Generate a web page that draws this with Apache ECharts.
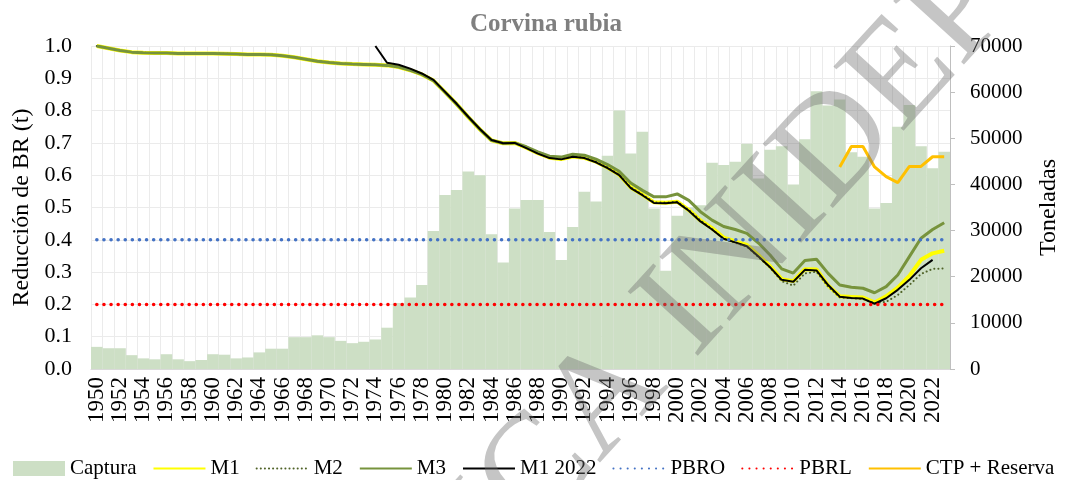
<!DOCTYPE html>
<html>
<head>
<meta charset="utf-8">
<script src="https://cdn.jsdelivr.net/npm/echarts@6/dist/echarts.min.js"></script>
<style>
  html, body { margin: 0; padding: 0; background: #fff; }
  #chart { width: 1069px; height: 480px; }
</style>
</head>
<body>
<div id="chart"></div>
<script>
// años
var years = [
  '1950','1951','1952','1953','1954','1955','1956','1957','1958','1959',
  '1960','1961','1962','1963','1964','1965','1966','1967','1968','1969',
  '1970','1971','1972','1973','1974','1975','1976','1977','1978','1979',
  '1980','1981','1982','1983','1984','1985','1986','1987','1988','1989',
  '1990','1991','1992','1993','1994','1995','1996','1997','1998','1999',
  '2000','2001','2002','2003','2004','2005','2006','2007','2008','2009',
  '2010','2011','2012','2013','2014','2015','2016','2017','2018','2019',
  '2020','2021','2022','2023'
];

// captura (toneladas)
var captura = [
  4800, 4500, 4500, 3000, 2300, 2100, 3200, 2100, 1700, 1950,
  3200, 3100, 2300, 2500, 3600, 4400, 4400, 6900, 6900, 7300,
  6900, 6100, 5600, 5900, 6400, 8950, 14300, 15500, 18200, 29900,
  37700, 38800, 42800, 42000, 29200, 23100, 34800, 36600, 36600, 29700,
  23600, 30800, 38400, 36300, 46200, 56000, 46700, 51400, 34800, 21300,
  33200, 35000, 35500, 44700, 44200, 44900, 48800, 41300, 47500, 48300,
  40000, 49800, 60200, 57100, 58400, 47000, 46000, 34800, 36000, 52500,
  57200, 48300, 43500, 47100
];

// reduccion de BR
var m1 = [
  1.000, 0.993, 0.986, 0.981, 0.979, 0.978, 0.978, 0.977, 0.977, 0.977,
  0.977, 0.976, 0.975, 0.974, 0.974, 0.973, 0.970, 0.965, 0.959, 0.953,
  0.949, 0.946, 0.944, 0.943, 0.942, 0.940, 0.935, 0.925, 0.912, 0.893,
  0.857, 0.820, 0.780, 0.742, 0.708, 0.699, 0.700, 0.685, 0.668, 0.654,
  0.650, 0.658, 0.654, 0.642, 0.624, 0.602, 0.562, 0.540, 0.516, 0.515,
  0.518, 0.492, 0.460, 0.436, 0.407, 0.395, 0.384, 0.352, 0.318, 0.278,
  0.272, 0.309, 0.308, 0.259, 0.225, 0.223, 0.221, 0.206, 0.225, 0.252,
  0.288, 0.338, 0.358, 0.366
];
var m2 = [
  1.000, 0.993, 0.986, 0.981, 0.979, 0.978, 0.978, 0.977, 0.977, 0.977,
  0.977, 0.976, 0.975, 0.974, 0.974, 0.973, 0.970, 0.965, 0.959, 0.953,
  0.949, 0.946, 0.944, 0.943, 0.942, 0.940, 0.935, 0.925, 0.912, 0.893,
  0.857, 0.820, 0.780, 0.742, 0.708, 0.699, 0.700, 0.685, 0.668, 0.654,
  0.650, 0.658, 0.654, 0.642, 0.624, 0.602, 0.562, 0.540, 0.516, 0.515,
  0.518, 0.492, 0.460, 0.433, 0.403, 0.391, 0.379, 0.346, 0.314, 0.272,
  0.258, 0.296, 0.301, 0.255, 0.222, 0.219, 0.217, 0.204, 0.208, 0.229,
  0.260, 0.294, 0.310, 0.311
];
var m3 = [
  1.000, 0.993, 0.986, 0.981, 0.979, 0.978, 0.978, 0.977, 0.977, 0.977,
  0.977, 0.976, 0.975, 0.974, 0.974, 0.973, 0.970, 0.965, 0.959, 0.953,
  0.949, 0.946, 0.944, 0.943, 0.942, 0.940, 0.935, 0.925, 0.912, 0.893,
  0.857, 0.820, 0.780, 0.742, 0.708, 0.699, 0.700, 0.688, 0.672, 0.659,
  0.656, 0.665, 0.662, 0.650, 0.633, 0.612, 0.576, 0.553, 0.533, 0.533,
  0.542, 0.522, 0.487, 0.461, 0.441, 0.432, 0.420, 0.390, 0.353, 0.310,
  0.297, 0.336, 0.340, 0.296, 0.260, 0.253, 0.250, 0.236, 0.255, 0.291,
  0.348, 0.405, 0.432, 0.453
];
var m1_2022 = [
  null, null, null, null, null, null, null, null, null, null,
  null, null, null, null, null, null, null, null, null, null,
  null, null, null, null, 1.000, 0.948, 0.942, 0.930, 0.915, 0.895,
  0.858, 0.821, 0.781, 0.743, 0.709, 0.699, 0.700, 0.684, 0.667, 0.653,
  0.649, 0.657, 0.653, 0.640, 0.622, 0.600, 0.560, 0.538, 0.514, 0.513,
  0.516, 0.490, 0.457, 0.432, 0.403, 0.392, 0.380, 0.348, 0.315, 0.276,
  0.270, 0.307, 0.305, 0.260, 0.224, 0.220, 0.218, 0.202, 0.219, 0.245,
  0.276, 0.312, 0.338, null
];
// CTP + Reserva (toneladas)
var ctp = [
  null, null, null, null, null, null, null, null, null, null,
  null, null, null, null, null, null, null, null, null, null,
  null, null, null, null, null, null, null, null, null, null,
  null, null, null, null, null, null, null, null, null, null,
  null, null, null, null, null, null, null, null, null, null,
  null, null, null, null, null, null, null, null, null, null,
  null, null, null, null, 43800, 48200, 48200, 43800, 41700, 40400,
  43900, 43900, 46000, 46000
];
// puntos biologicos de referencia
var pbro = 0.4;
var pbrl = 0.2;

var fuente = 'Liberation Serif';
var myChart = echarts.init(document.getElementById('chart'));

function punteada(nombre, valor, color) {
  return {
    name: nombre,
    type: 'line',
    data: years.map(function () { return valor; }),
    symbol: 'none',
    silent: true,
    lineStyle: { color: color, width: 3.5, type: [0.1, 7], cap: 'round' },
    itemStyle: { color: color }
  };
}

var option = {
  animation: false,
  backgroundColor: '#fff',
  title: {
    text: 'Corvina rubia',
    left: 541,
    top: 7,
    textAlign: 'center',
    textStyle: { color: '#7f7f7f', fontSize: 25, fontWeight: 'bold', fontFamily: fuente }
  },
  legend: {
    left: 8,
    top: 453,
    itemWidth: 52,
    itemHeight: 15,
    itemGap: 16,
    itemStyle: { opacity: 0 },
    textStyle: { color: '#000', fontSize: 21, fontFamily: fuente },
    data: [
      { name: 'Captura', icon: 'rect', itemStyle: { opacity: 1 } },
      'M1', 'M2', 'M3', 'M1 2022', 'PBRO', 'PBRL', 'CTP + Reserva'
    ]
  },
  grid: { left: 91, right: 117, top: 46, bottom: 111 },
  xAxis: {
    type: 'category',
    data: years,
    boundaryGap: true,
    axisLine: { lineStyle: { color: '#d9d9d9' } },
    axisTick: { show: false },
    axisLabel: {
      interval: 1, rotate: 90, margin: 8,
      color: '#000', fontSize: 23, lineHeight: 14, fontFamily: fuente
    },
    splitLine: { show: true, interval: 0, lineStyle: { color: '#ebebeb', width: 1 } }
  },
  yAxis: [
    {
      type: 'value', min: 0, max: 1, interval: 0.1,
      name: 'Reducción de BR (t)',
      nameLocation: 'middle',
      nameGap: 56,
      nameTextStyle: { color: '#000', fontSize: 24, fontFamily: fuente },
      axisLine: { show: false },
      axisTick: { show: false },
      axisLabel: {
        margin: 19, color: '#000', fontSize: 22, fontFamily: fuente,
        formatter: function (v) { return v.toFixed(1); }
      },
      splitLine: { lineStyle: { color: '#ebebeb', width: 1 } }
    },
    {
      type: 'value', min: 0, max: 70000, interval: 10000,
      position: 'right',
      name: 'Toneladas',
      nameLocation: 'middle',
      nameGap: 87,
      nameTextStyle: { color: '#000', fontSize: 24, fontFamily: fuente },
      axisLine: { show: true, lineStyle: { color: '#bfbfbf' } },
      axisTick: { show: true, length: 5, lineStyle: { color: '#bfbfbf' } },
      axisLabel: {
        margin: 20, color: '#000', fontSize: 21, fontFamily: fuente,
        formatter: function (v) { return String(v); }
      },
      splitLine: { show: false }
    }
  ],
  series: [
    {
      name: 'Captura',
      type: 'bar',
      yAxisIndex: 1,
      data: captura,
      barCategoryGap: '0%',
      itemStyle: { color: '#cddfc5' }
    },
    {
      name: 'M1', type: 'line', data: m1, symbol: 'none',
      lineStyle: { color: '#ffff00', width: 4 }, itemStyle: { color: '#ffff00' }
    },
    {
      name: 'M2', type: 'line', data: m2, symbol: 'none',
      lineStyle: { color: '#4f6228', width: 2, type: [0.1, 4], cap: 'round' },
      itemStyle: { color: '#4f6228' }
    },
    {
      name: 'M3', type: 'line', data: m3, symbol: 'none',
      lineStyle: { color: '#77933c', width: 3 }, itemStyle: { color: '#77933c' }
    },
    {
      name: 'M1 2022', type: 'line', data: m1_2022, symbol: 'none',
      lineStyle: { color: '#000', width: 2 }, itemStyle: { color: '#000' }
    },
    punteada('PBRO', pbro, '#4472c4'),
    punteada('PBRL', pbrl, '#ff0000'),
    {
      name: 'CTP + Reserva', type: 'line', yAxisIndex: 1, data: ctp, symbol: 'none',
      lineStyle: { color: '#ffc000', width: 3 }, itemStyle: { color: '#ffc000' }
    }
  ],
  graphic: [
    {
      type: 'text',
      x: 730,
      y: 264,
      rotation: 0.83,
      z: 100,
      silent: true,
      style: {
        text: 'ICA INIDEP',
        fontSize: 145,
        fontFamily: fuente,
        fill: 'rgba(110,110,110,0.4)',
        textAlign: 'center',
        textVerticalAlign: 'middle'
      }
    }
  ]
};
myChart.setOption(option);
</script>
</body>
</html>
